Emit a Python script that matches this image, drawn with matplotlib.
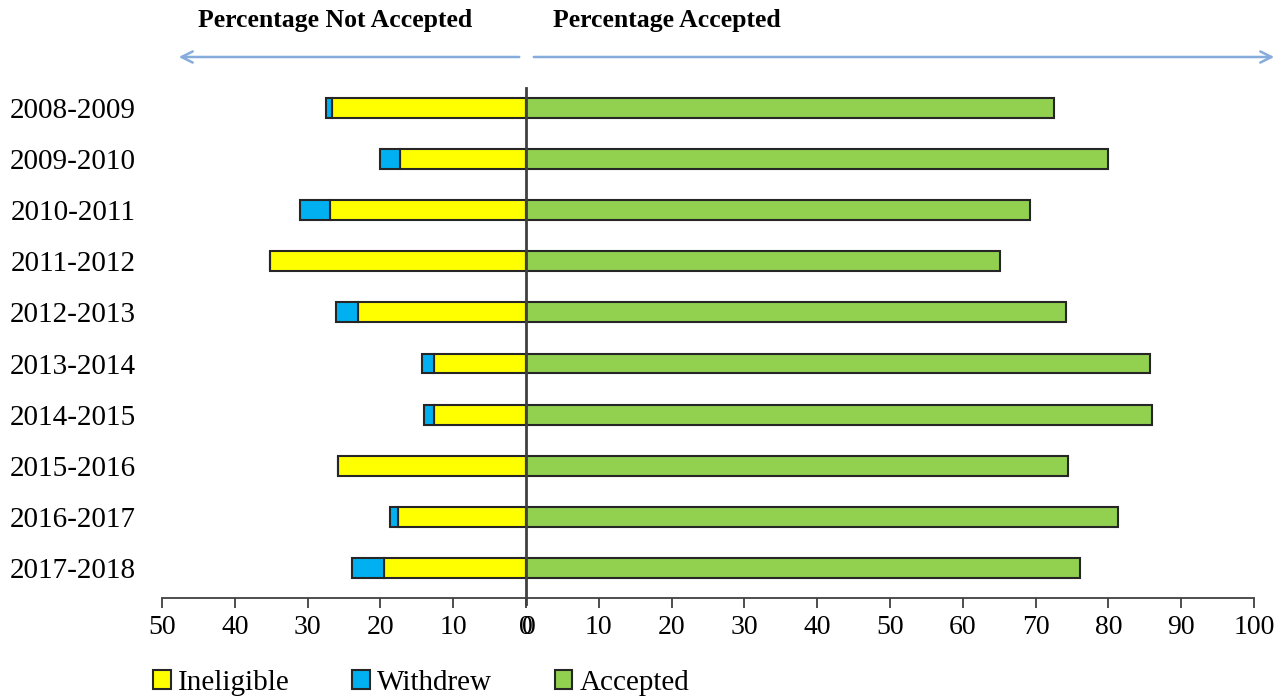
import numpy as np
import matplotlib.pyplot as plt
from matplotlib.patches import Patch

years = ["2008-2009", "2009-2010", "2010-2011", "2011-2012", "2012-2013",
         "2013-2014", "2014-2015", "2015-2016", "2016-2017", "2017-2018"]
ineligible = [26.6, 17.3, 26.9, 35.2, 23.1, 12.6, 12.6, 25.8, 17.6, 19.5]
withdrew = [0.9, 2.7, 4.1, 0.0, 3.0, 1.7, 1.4, 0.0, 1.1, 4.4]
accepted = [72.5, 79.9, 69.2, 65.1, 74.2, 85.7, 86.0, 74.5, 81.3, 76.1]
xticks = [-50, -40, -30, -20, -10, 0, 10, 20, 30, 40, 50, 60, 70, 80, 90, 100]

plt.rcParams["font.family"] = ["Liberation Serif", "DejaVu Serif"]

fig = plt.figure(figsize=(12.83, 6.98), dpi=100)
ax = fig.add_axes([162 / 1283, 100 / 698, (1254 - 162) / 1283, (598 - 88) / 698])

y = np.arange(len(years))
h = 0.39
edge = dict(edgecolor="#262626", linewidth=1.5)
inel = -np.array(ineligible)
wd = -np.array(withdrew)
ax.barh(y, inel, height=h, color="#FFFF00", **edge)
ax.barh(y, wd, left=inel, height=h, color="#00B0F0", **edge)
ax.barh(y, accepted, height=h, color="#92D050", **edge)

ax.set_xlim(-50, 100)
ax.set_ylim(len(years) - 1 + 0.587, -0.39)
ax.axvline(0, color="#404040", lw=2, ymin=-0.012, clip_on=False)

ax.set_yticks(y)
ax.set_yticklabels(years, fontsize=21)
ax.tick_params(axis="y", length=0, pad=19)
ax.set_xticks(xticks)
ax.set_xticklabels([str(abs(t)) for t in xticks], fontsize=20)
ax.tick_params(axis="x", direction="out", length=7, width=1.3, color="#404040", pad=5)
# the chart overlays two axes, so a second "0" sits beside the first
ax.set_xticks([0.35], minor=True)
ax.set_xticklabels(["0"], minor=True, fontsize=20)
ax.tick_params(axis="x", which="minor", length=0, pad=12)
for s in ["left", "right", "top"]:
    ax.spines[s].set_visible(False)
ax.spines["bottom"].set_color("#404040")
ax.spines["bottom"].set_linewidth(1.3)

# header labels and arrows
fig.text(198 / 1283, 1 - 20 / 698, "Percentage Not Accepted", fontsize=18.5,
         fontweight="bold", va="center", ha="left")
fig.text(553 / 1283, 1 - 20 / 698, "Percentage Accepted", fontsize=18.5,
         fontweight="bold", va="center", ha="left")
arrow_col = "#86ACDC"
ya = 1 - 57 / 698
ax.annotate("", xy=(176 / 1283, ya), xytext=(522 / 1283, ya), xycoords="figure fraction",
            arrowprops=dict(arrowstyle="->,head_length=0.8,head_width=0.4",
                            color=arrow_col, lw=1.8))
ax.annotate("", xy=(1277 / 1283, ya), xytext=(531 / 1283, ya), xycoords="figure fraction",
            arrowprops=dict(arrowstyle="->,head_length=0.8,head_width=0.4",
                            color=arrow_col, lw=1.8))

handles = [Patch(facecolor="#FFFF00", **edge, label="Ineligible"),
           Patch(facecolor="#00B0F0", **edge, label="Withdrew"),
           Patch(facecolor="#92D050", **edge, label="Accepted")]
fig.legend(handles=handles, loc="center left", bbox_to_anchor=(153 / 1283, 1 - 683 / 698),
           ncol=3, frameon=False, fontsize=21, handlelength=0.6, handleheight=0.6,
           handletextpad=0.25, columnspacing=2.15, borderaxespad=0, borderpad=0)

fig.savefig("out.png", dpi=100)
